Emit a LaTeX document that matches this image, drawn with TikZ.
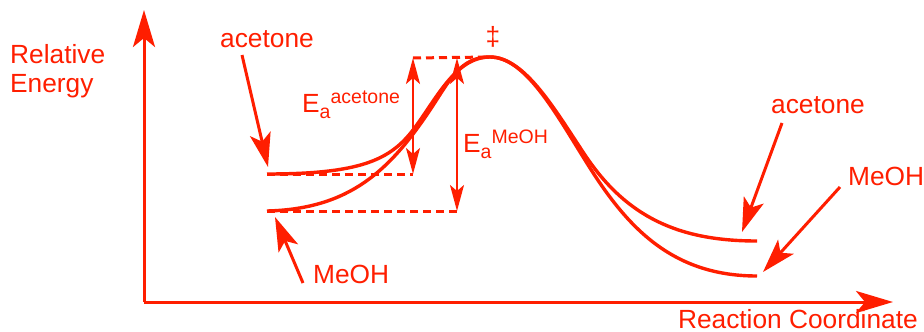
\documentclass[tikz,border=0pt]{standalone}
\usepackage{fontspec}
\setmainfont{Liberation Sans}
\usetikzlibrary{arrows.meta}
\definecolor{ered}{RGB}{255,30,0}
\newcommand{\Ea}[1]{E\raisebox{-6pt}{\fontsize{19.5}{19.5}\selectfont a}\raisebox{9pt}{\fontsize{19.5}{19.5}\selectfont #1}}
\begin{document}
\begin{tikzpicture}[x=1pt, y=-1pt, line join=round,
  lbl/.style={text=ered, font=\fontsize{26.3}{29}\selectfont, inner sep=0pt},
  axis/.style={draw=ered, line width=3pt, -{Stealth[length=37pt, width=22pt, inset=9pt]}},
  pointer/.style={draw=ered, line width=3pt, -{Stealth[length=34pt, width=21pt, inset=8pt]}},
  barrier/.style={draw=ered, line width=2pt, {Stealth[length=26pt, width=14pt, inset=6pt]}-{Stealth[length=26pt, width=14pt, inset=6pt]}},
  level/.style={draw=ered, line width=3pt, dash pattern=on 8pt off 5pt},
  curve/.style={draw=ered, line width=3.4pt}]
  \useasboundingbox (0,0) rectangle (924,332);

  % Axes
  \coordinate (origin) at (144,302);
  \coordinate (ytip) at (144,10);
  \coordinate (xtip) at (893,302);
  \draw[axis] (origin) -- (ytip);
  \draw[axis] (origin) -- (xtip);
  \node[lbl, anchor=base west, align=left] (ylab) at (10,92) {Relative\\Energy};
  \node[lbl, anchor=base east] (xlab) at (918,328) {Reaction Coordinate};

  % Energy levels
  \coordinate (rAc) at (267,174);
  \coordinate (rMe) at (267,211);
  \coordinate (ts) at (490,57);
  \coordinate (pAc) at (757,241);
  \coordinate (pMe) at (757,276);

  % Reaction profiles
  \draw[curve] (rAc) .. controls (360,174) and (390,160) .. (413,130)
    .. controls (436,100) and (455,57) .. (ts)
    .. controls (525,57) and (555,110) .. (585,155)
    .. controls (627,218) and (680,241) .. (pAc);
  \draw[curve] (rMe) .. controls (350,209) and (390,170) .. (430,110)
    .. controls (450,80) and (460,57) .. (ts)
    .. controls (525,57) and (555,112) .. (585,160)
    .. controls (625,225) and (670,276) .. (pMe);

  % Activation energies
  \coordinate (eaAtop) at (413,58);
  \coordinate (eaAbot) at (413,174);
  \coordinate (eaMtop) at (457,58);
  \coordinate (eaMbot) at (457,211);
  \draw[level] (rAc) -- (eaAbot);
  \draw[level] (rMe) -- (eaMbot);
  \draw[level] (eaAtop) -- (ts);
  \draw[barrier] (eaAtop) -- (eaAbot);
  \draw[barrier] (eaMtop) -- (eaMbot);
  \node[lbl, anchor=base west] (eaA) at (302,112) {\Ea{acetone}};
  \node[lbl, anchor=base west] (eaM) at (463,152) {\Ea{MeOH}};
  \node[lbl, anchor=base] (dagger) at (493,45) {‡};

  % Labels
  \node[lbl, anchor=base west] (acL) at (220,47) {acetone};
  \node[lbl, anchor=base west] (meL) at (313,283) {MeOH};
  \node[lbl, anchor=base west] (acR) at (771,113) {acetone};
  \node[lbl, anchor=base west] (meR) at (848,185) {MeOH};
  \coordinate (acLtail) at (242,55);
  \coordinate (acLhead) at (268,167);
  \coordinate (meLtail) at (303,283);
  \coordinate (meLhead) at (275,217);
  \coordinate (acRtail) at (782,123);
  \coordinate (acRhead) at (742,232);
  \coordinate (meRtail) at (840,187);
  \coordinate (meRhead) at (763,272);
  \draw[pointer] (acLtail) -- (acLhead);
  \draw[pointer] (meLtail) -- (meLhead);
  \draw[pointer] (acRtail) -- (acRhead);
  \draw[pointer] (meRtail) -- (meRhead);
\end{tikzpicture}
\end{document}
